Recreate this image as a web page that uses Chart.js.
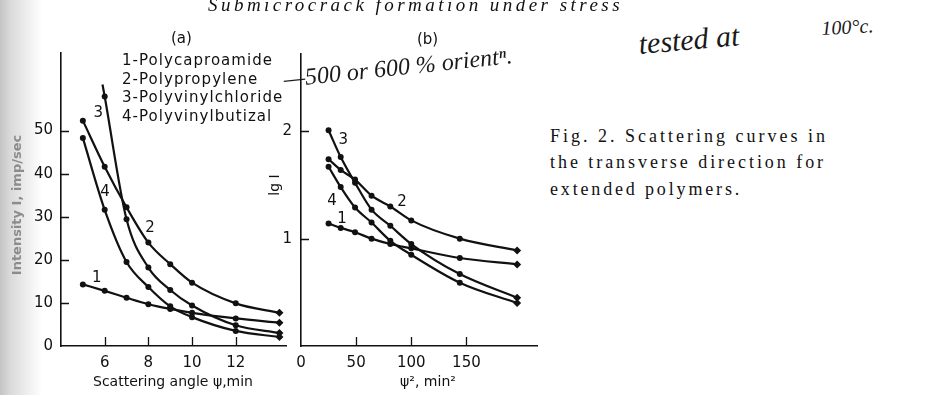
<!DOCTYPE html>
<html>
<head>
<meta charset="utf-8">
<title>Scattering curves</title>
<script src="https://cdn.jsdelivr.net/npm/chart.js@4.4.1/dist/chart.umd.min.js"></script>
<style>
  html, body { margin: 0; padding: 0; }
  body {
    width: 940px; height: 395px; overflow: hidden; position: relative;
    background: linear-gradient(to right, #c4c4c4 0px, #d9d9d9 10px, #ededed 26px, #fff 42px);
    font-family: "DejaVu Sans", sans-serif; color: #111;
  }
  .box { position: absolute; top: 0; }
  #boxA { left: 0; width: 295px; height: 395px; }
  #boxB { left: 245px; width: 300px; height: 395px; }
  .txt { position: absolute; white-space: nowrap; line-height: 1; }
  .serif { font-family: "Liberation Serif", serif; }
  .hand { font-family: "Liberation Serif", serif; font-style: italic; color: #1a1a1a; transform-origin: 0 100%; }
</style>
</head>
<body>
<div class="box" id="boxA"><canvas id="chartA" width="295" height="395"></canvas></div>
<div class="box" id="boxB"><canvas id="chartB" width="300" height="395"></canvas></div>

<div class="txt serif" id="title" style="left:208px; top:-5px; font-size:19px; font-style:italic;">Submicrocrack formation under stress</div>
<div class="txt" style="left:171px; top:31px; font-size:15px;">(a)</div>
<div class="txt" style="left:417px; top:32px; font-size:15px;">(b)</div>
<div id="legend"></div>

<div class="txt hand" id="hand1" style="left:285px; top:67px; font-size:24px; transform:rotate(-6deg);">&#8212;500 or 600 % orient&#8319;.</div>
<div class="txt hand" id="hand2" style="left:640px; top:29px; font-size:30px; transform:rotate(-5deg);">tested at</div>
<div class="txt hand" id="hand3" style="left:822px; top:18px; font-size:20px; transform:rotate(-3deg);">100&#176;c.</div>

<div class="txt serif" id="cap1" style="left:550px; top:127px; font-size:18px;">Fig. 2. Scattering curves in</div>
<div class="txt serif" id="cap2" style="left:550px; top:153px; font-size:18px;">the transverse direction for</div>
<div class="txt serif" id="cap3" style="left:550px; top:180px; font-size:18px;">extended polymers.</div>

<script>
// ---- data ----
var seriesNames = ['Polycaproamide', 'Polypropylene', 'Polyvinylchloride', 'Polyvinylbutizal'];

// panel (a): intensity vs scattering angle psi (min)
var angleA = [5, 6, 7, 8, 9, 10, 12, 14];
var angleA3 = [5.9, 6, 7, 8, 9, 10, 12, 14];   // curve 3 starts off the top, unmarked
var intensity1 = [14.3, 12.8, 11.2, 9.7, 8.6, 7.7, 6.4, 5.4];
var intensity2 = [52.3, 41.6, 32.2, 24.0, 19.0, 14.7, 9.9, 7.7];
var intensity3 = [60.7, 57.9, 29.4, 18.2, 13.0, 9.4, 4.8, 3.0];
var intensity4 = [48.3, 31.6, 19.5, 13.7, 9.2, 6.7, 3.5, 2.1];

// panel (b): lg I vs psi^2 (min^2)
var angleSqB = [25, 36, 49, 64, 81, 100, 144, 196];
var lgI1 = [1.14, 1.10, 1.06, 1.00, 0.95, 0.91, 0.82, 0.76];
var lgI2 = [1.74, 1.64, 1.55, 1.40, 1.30, 1.17, 1.00, 0.89];
var lgI3 = [2.01, 1.76, 1.52, 1.27, 1.12, 0.95, 0.67, 0.45];
var lgI4 = [1.67, 1.48, 1.29, 1.15, 0.98, 0.85, 0.59, 0.40];

// tick labels
var ticksAx = [6, 8, 10, 12];
var ticksAy = [0, 10, 20, 30, 40, 50];
var ticksBx = [0, 50, 100, 150];
var ticksBy = [1, 2];

// ---- helpers ----
var INK = '#111';
Chart.defaults.font.family = '"DejaVu Sans", sans-serif';
Chart.defaults.color = INK;

function pairs(xs, ys) {
  return ys.map(function (y, i) { return { x: xs[i], y: y }; });
}

function curve(xs, ys, hideFirst) {
  var n = ys.length;
  return {
    data: pairs(xs, ys),
    borderColor: INK,
    backgroundColor: INK,
    borderWidth: 2.2,
    cubicInterpolationMode: 'monotone',
    pointRadius: ys.map(function (v, i) { return (hideFirst && i === 0) ? 0 : (i === n - 1 ? 4 : 3); }),
    pointStyle: ys.map(function (v, i) { return i === n - 1 ? 'rectRot' : 'circle'; }),
    pointBackgroundColor: INK,
    pointBorderColor: INK,
    pointBorderWidth: 0
  };
}

function fixedTicks(list) {
  return function (scale) { scale.ticks = list.map(function (v) { return { value: v }; }); };
}

// ticks pointing into the plot, like the original drawing
var innerTicks = {
  id: 'innerTicks',
  afterDraw: function (chart) {
    var ctx = chart.ctx, a = chart.chartArea, xs = chart.scales.x, ys = chart.scales.y;
    ctx.save();
    ctx.strokeStyle = INK;
    ctx.lineWidth = 1.3;
    ctx.beginPath();
    xs.ticks.forEach(function (t) {
      if (t.value === xs.min) return;
      var px = Math.round(xs.getPixelForValue(t.value)) + 0.5;
      ctx.moveTo(px, a.bottom); ctx.lineTo(px, a.bottom - 9);
    });
    ys.ticks.forEach(function (t) {
      if (t.value === ys.min) return;
      var py = Math.round(ys.getPixelForValue(t.value)) + 0.5;
      ctx.moveTo(a.left, py); ctx.lineTo(a.left + 8, py);
    });
    ctx.stroke();
    ctx.restore();
  }
};

// curve numbers 1..4 placed in data units
var curveNumbers = {
  id: 'curveNumbers',
  afterDatasetsDraw: function (chart, args, opts) {
    var ctx = chart.ctx, xs = chart.scales.x, ys = chart.scales.y;
    ctx.save();
    ctx.font = '15px "DejaVu Sans"';
    ctx.fillStyle = INK;
    ctx.textAlign = 'center';
    ctx.textBaseline = 'middle';
    (opts.spots || []).forEach(function (s, i) {
      ctx.fillText(String(i + 1), xs.getPixelForValue(s[0]), ys.getPixelForValue(s[1]));
    });
    ctx.restore();
  }
};

// axis titles, placed by hand since the originals are off-centre
var axisTitles = {
  id: 'axisTitles',
  afterDraw: function (chart, args, opts) {
    var ctx = chart.ctx;
    (opts.items || []).forEach(function (it) {
      ctx.save();
      ctx.font = it.font;
      ctx.fillStyle = it.color || INK;
      ctx.textAlign = 'center';
      ctx.textBaseline = 'middle';
      ctx.translate(it.x, it.y);
      if (it.rotate) ctx.rotate(it.rotate);
      ctx.fillText(it.text, 0, 0);
      ctx.restore();
    });
  }
};

function axisOpts(min, max, list, fit, pad) {
  return {
    type: 'linear',
    min: min,
    max: max,
    afterBuildTicks: fixedTicks(list),
    afterFit: fit,
    grid: { display: false, drawTicks: false },
    border: { display: true, color: INK, width: 1.6 },
    ticks: { padding: pad, font: { size: 15 }, color: INK }
  };
}

function baseOptions(extra) {
  return {
    responsive: false,
    animation: false,
    devicePixelRatio: 1,
    layout: { padding: extra.padding },
    plugins: {
      legend: { display: false },
      tooltip: { enabled: false },
      curveNumbers: { spots: extra.spots },
      axisTitles: { items: extra.titles }
    },
    scales: extra.scales
  };
}

// ---- panel (a) ----
new Chart(document.getElementById('chartA').getContext('2d'), {
  type: 'line',
  data: {
    datasets: [
      curve(angleA, intensity1),
      curve(angleA, intensity2),
      curve(angleA3, intensity3, true),
      curve(angleA, intensity4)
    ]
  },
  options: baseOptions({
    padding: { top: 53, right: 9, left: 0, bottom: 0 },
    spots: [[5.64, 15.7], [8.08, 27.3], [5.71, 54], [6.02, 35.8]],
    titles: [
      { text: 'Scattering angle \u03c8,min', x: 173, y: 382, font: '14px "DejaVu Sans"' },
      { text: 'Intensity I, imp/sec', x: 18, y: 205, rotate: -Math.PI / 2, font: 'bold 13px "DejaVu Sans"', color: '#8c8c8c' }
    ],
    scales: {
      x: axisOpts(4, 14.3, ticksAx, function (s) { s.height = 49; }, 8),
      y: axisOpts(0, 68, ticksAy, function (s) { s.width = 61; }, 8)
    }
  }),
  plugins: [innerTicks, curveNumbers, axisTitles]
});

// ---- panel (b) ----
new Chart(document.getElementById('chartB').getContext('2d'), {
  type: 'line',
  data: {
    datasets: [
      curve(angleSqB, lgI1),
      curve(angleSqB, lgI2),
      curve(angleSqB, lgI3),
      curve(angleSqB, lgI4)
    ]
  },
  options: baseOptions({
    padding: { top: 54, right: 8, left: 0, bottom: 0 },
    spots: [[37.2, 1.18], [91.7, 1.34], [38.4, 1.92], [28.1, 1.35]],
    titles: [
      { text: '\u03c8\u00b2, min\u00b2', x: 183, y: 382, font: '14px "DejaVu Sans"' },
      { text: 'lg I', x: 30, y: 185, rotate: -Math.PI / 2, font: '14px "DejaVu Sans"' }
    ],
    scales: {
      x: axisOpts(0, 214, ticksBx, function (s) { s.height = 49; }, 8),
      y: axisOpts(0, 2.72, ticksBy, function (s) { s.width = 56; }, 9)
    }
  }),
  plugins: [innerTicks, curveNumbers, axisTitles]
});

// ---- legend text (html) ----
var legend = document.getElementById('legend');
seriesNames.forEach(function (name, i) {
  var d = document.createElement('div');
  d.className = 'txt';
  d.style.left = '122px';
  d.style.top = (53 + i * 18.5) + 'px';
  d.style.fontSize = '15px';
  d.textContent = (i + 1) + '-' + name;
  legend.appendChild(d);
});

// stretch the scanned-looking texts to their widths in the original
function fitWidth(el, target) {
  var w = el.getBoundingClientRect().width;
  var n = el.textContent.length;
  el.style.letterSpacing = ((target - w) / n).toFixed(2) + 'px';
}
fitWidth(document.getElementById('title'), 415);
fitWidth(document.getElementById('cap1'), 278);
fitWidth(document.getElementById('cap2'), 276);
fitWidth(document.getElementById('cap3'), 192);
fitWidth(legend.children[0], 151);
for (var k = 1; k < legend.children.length; k++) {
  legend.children[k].style.letterSpacing = legend.children[0].style.letterSpacing;
}
</script>
</body>
</html>
